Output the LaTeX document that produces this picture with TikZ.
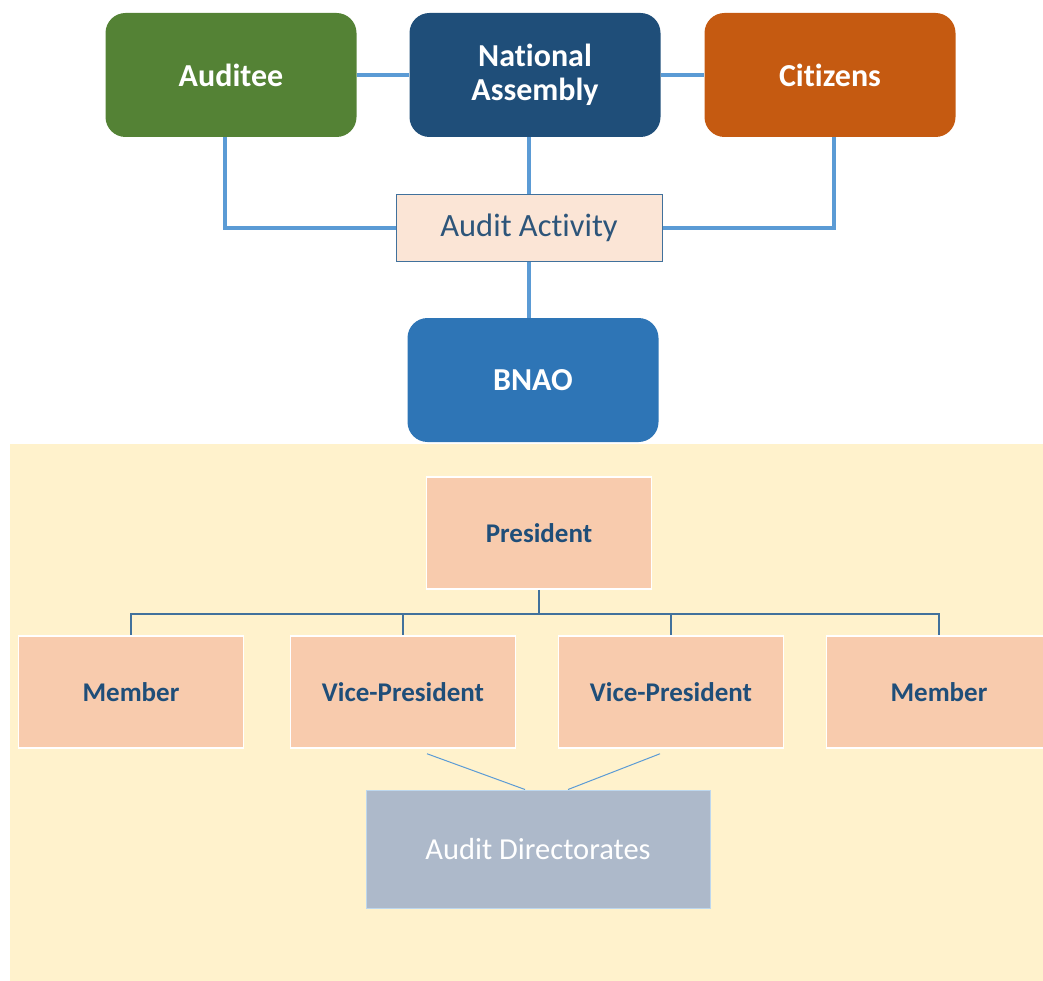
\documentclass[tikz,border=0pt]{standalone}
\usepackage{fontspec}
\setmainfont{Carlito}[Ligatures=CommonOff]
\usepackage{xcolor}
\usetikzlibrary{positioning,calc}

\definecolor{auditgreen}{HTML}{548235}
\definecolor{assemblyblue}{HTML}{1F4E79}
\definecolor{citizenorange}{HTML}{C55A11}
\definecolor{bnaoblue}{HTML}{2E75B6}
\definecolor{linkblue}{HTML}{5B9BD5}
\definecolor{treeblue}{HTML}{41719C}
\definecolor{peach}{HTML}{F8CBAD}
\definecolor{lightpeach}{HTML}{FBE5D6}
\definecolor{cream}{HTML}{FFF2CC}
\definecolor{slate}{HTML}{ADB9CA}
\definecolor{textblue}{HTML}{1F4E79}

\begin{document}
\begin{tikzpicture}[
  x=1pt,y=-1pt,
  party/.style={rounded corners=20pt,minimum width=251,minimum height=124,
    inner sep=0pt,text=white,align=center,
    font=\fontsize{32}{34}\selectfont\bfseries},
  link/.style={draw=linkblue,line width=3.5pt},
  post/.style={draw=white,line width=1.5pt,fill=peach,minimum width=225,
    minimum height=112,inner sep=0pt,text=textblue,
    font=\fontsize{27}{30}\selectfont\bfseries},
  branch/.style={draw=treeblue,line width=1.5pt},
  feed/.style={draw=linkblue,line width=1pt}
]
  \useasboundingbox (0,0) rectangle (1043,981);
  \fill[cream] (10,444) rectangle (1043,981);

  % stakeholders
  \node[party,fill=auditgreen] (auditee) at (231,75) {Auditee};
  \node[party,fill=assemblyblue] (assembly) at (535,75) {National\\Assembly};
  \node[party,fill=citizenorange] (citizens) at (830,75) {Citizens};
  \node[draw=treeblue,line width=1pt,fill=lightpeach,minimum width=266,
    minimum height=67,inner sep=0pt,text=textblue!85!gray,
    font=\fontsize{32.5}{34}\selectfont] (activity) at (529,228) {Audit Activity};
  \node[party,fill=bnaoblue] (bnao) at (533,380) {BNAO};

  \draw[link] (auditee.east) -- (assembly.west);
  \draw[link] (assembly.east) -- (citizens.west);
  \draw[link] ([xshift=-6pt]auditee.south) |- (activity.west);
  \draw[link] ([xshift=4pt]citizens.south) |- (activity.east);
  \draw[link] (assembly.south -| activity.north) -- (activity.north);
  \draw[link] (activity.south) -- (activity.south |- bnao.north);

  % office structure
  \node[post] (president) at (539,533) {President};
  \node[post] (memberL) at (131,692) {Member};
  \node[post] (viceL) at (403,692) {Vice-President};
  \node[post] (viceR) at (671,692) {Vice-President};
  \node[post] (memberR) at (939,692) {Member};
  \node[draw=linkblue!40,line width=1pt,fill=slate,minimum width=344,
    minimum height=118,inner sep=0pt,text=white,
    font=\fontsize{30.5}{34}\selectfont] (directorates) at (538,849)
    {Audit Directorates};

  \draw[branch] (president.south) -- ++(0,24) coordinate (fork);
  \foreach \p in {memberL,viceL,viceR,memberR}
    \draw[branch] (fork) -| (\p.north);

  \draw[feed] ($(viceL.south)+(24,5)$) -- ($(directorates.north)+(-13,0)$);
  \draw[feed] ($(viceR.south)+(-11,5)$) -- ($(directorates.north)+(30,0)$);
\end{tikzpicture}
\end{document}
